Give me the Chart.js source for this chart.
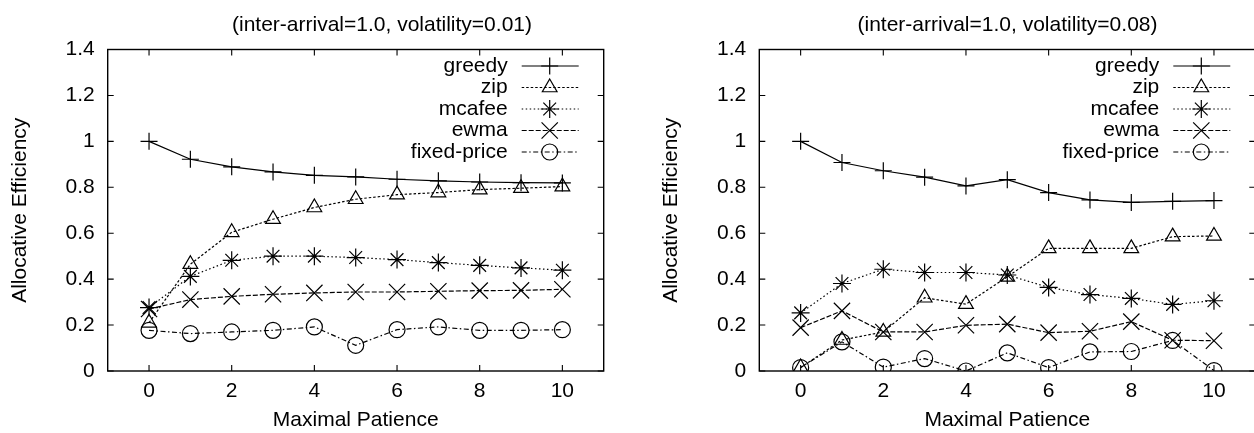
<!DOCTYPE html>
<html><head><meta charset="utf-8">
<script src="https://cdn.jsdelivr.net/npm/chart.js@4/dist/chart.umd.min.js"></script>
<style>
html,body{margin:0;padding:0;background:#fff;overflow:hidden;width:1254px;height:433px;position:relative;}
.panel{position:absolute;top:0;width:640px;height:433px;}
#p1{left:0}
#p2{left:640px}
</style></head><body>
<div class="panel" id="p1"><canvas id="c1"></canvas></div>
<div class="panel" id="p2"><canvas id="c2"></canvas></div>
<script>
// ---- data ----
const patience = [0,1,2,3,4,5,6,7,8,9,10];
const seriesNames = ['greedy','zip','mcafee','ewma','fixed-price'];

const titleLow = '(inter-arrival=1.0, volatility=0.01)';
const greedyLow = [1.0, 0.922, 0.889, 0.867, 0.852, 0.845, 0.835, 0.828, 0.823, 0.820, 0.819];
const zipLow    = [0.21, 0.465, 0.604, 0.661, 0.712, 0.748, 0.768, 0.777, 0.790, 0.796, 0.803];
const mcafeeLow = [0.276, 0.412, 0.482, 0.500, 0.500, 0.494, 0.485, 0.472, 0.460, 0.449, 0.439];
const ewmaLow   = [0.270, 0.311, 0.325, 0.334, 0.340, 0.344, 0.344, 0.347, 0.350, 0.351, 0.356];
const fixedLow  = [0.177, 0.163, 0.170, 0.177, 0.192, 0.112, 0.180, 0.192, 0.177, 0.177, 0.180];

const titleHigh = '(inter-arrival=1.0, volatility=0.08)';
const greedyHigh = [1.0, 0.908, 0.872, 0.844, 0.806, 0.833, 0.777, 0.745, 0.734, 0.739, 0.742];
const zipHigh    = [0.015, 0.135, 0.170, 0.319, 0.291, 0.410, 0.534, 0.534, 0.534, 0.585, 0.588];
const mcafeeHigh = [0.253, 0.381, 0.443, 0.429, 0.429, 0.418, 0.364, 0.333, 0.316, 0.290, 0.306];
const ewmaHigh   = [0.189, 0.262, 0.170, 0.170, 0.199, 0.204, 0.167, 0.173, 0.215, 0.134, 0.132];
const fixedHigh  = [0.015, 0.127, 0.017, 0.054, 0.000, 0.079, 0.015, 0.083, 0.085, 0.133, 0.002];

const xTickValues = [0,2,4,6,8,10];
const xTickLabels = ['0','2','4','6','8','10'];
const yTickValues = [0,0.2,0.4,0.6,0.8,1.0,1.2,1.4];
const yTickLabels = ['0','0.2','0.4','0.6','0.8','1','1.2','1.4'];
const xAxisTitle = 'Maximal Patience';
const yAxisTitle = 'Allocative Efficiency';

// ---- styles ----
const FONT = '"Liberation Sans", Arial, Helvetica, sans-serif';
const FSIZE = 21;
const LW = 1.2;
const styles = [
  {pointStyle:'cross',    radius:8.5,  dash:[]},
  {pointStyle:'triangle', radius:8.5,  dash:[2.5,2]},
  {pointStyle:'star',     radius:9,    dash:[1.5,2.5]},
  {pointStyle:'crossRot', radius:11.5, dash:[5,2]},
  {pointStyle:'circle',   radius:8,    dash:[5,2.5,1.5,2.5]}
];

const framePlugin = {
  id:'gpFrame',
  beforeDatasetsDraw(chart){
    const {ctx, chartArea:a, scales} = chart;
    ctx.save();
    ctx.strokeStyle='#000'; ctx.lineWidth=1.4; ctx.setLineDash([]);
    ctx.strokeRect(a.left, a.top, a.right-a.left, a.bottom-a.top);
    ctx.lineWidth=1.1;
    ctx.beginPath();
    xTickValues.forEach(v=>{
      const px = scales.x.getPixelForValue(v);
      ctx.moveTo(px, a.bottom); ctx.lineTo(px, a.bottom-6);
      ctx.moveTo(px, a.top); ctx.lineTo(px, a.top+6);
    });
    yTickValues.forEach(v=>{
      const py = scales.y.getPixelForValue(v);
      ctx.moveTo(a.left, py); ctx.lineTo(a.left+6, py);
      ctx.moveTo(a.right, py); ctx.lineTo(a.right-6, py);
    });
    ctx.stroke();
    ctx.restore();
  }
};

const legendTitlePlugin = {
  id:'gpLegend',
  afterDraw(chart, args, opts){
    const {ctx, chartArea:a} = chart;
    ctx.save();
    ctx.font = FSIZE+'px '+FONT;
    ctx.fillStyle='#000';
    ctx.textBaseline='middle';
    ctx.textAlign='center';
    ctx.fillText(opts.title, opts.titleX, 25);
    ctx.textAlign='right';
    chart.data.datasets.forEach((ds,i)=>{
      const y = a.top + 16.5 + i*21.5;
      ctx.fillStyle='#000';
      ctx.fillText(ds.label, a.left+400, y);
      ctx.beginPath();
      ctx.setLineDash(ds.borderDash||[]);
      ctx.lineWidth = LW; ctx.strokeStyle='#000';
      ctx.moveTo(a.left+414, y); ctx.lineTo(a.left+471, y);
      ctx.stroke();
      ctx.setLineDash([]);
      ctx.fillStyle='rgba(0,0,0,0)';
      ctx.strokeStyle='#000'; ctx.lineWidth=LW;
      Chart.helpers.drawPoint(ctx, {pointStyle: ds.pointStyle, radius: ds.pointRadius, borderWidth: LW, rotation: 0}, a.left+442, y);
    });
    ctx.restore();
  }
};

function makeChart(id, title, values, geo){
  const datasets = seriesNames.map((name,i)=>({
    label: name,
    data: patience.map((p,j)=>({x:p, y:values[i][j]})),
    borderColor:'#000',
    backgroundColor:'rgba(0,0,0,0)',
    borderWidth:LW,
    borderDash: styles[i].dash,
    pointStyle: styles[i].pointStyle,
    pointRadius: styles[i].radius,
    pointHoverRadius: styles[i].radius,
    pointBorderWidth:LW,
    pointBorderColor:'#000',
    pointBackgroundColor:'rgba(0,0,0,0)',
    tension:0,
    fill:false
  }));
  return new Chart(document.getElementById(id), {
    type:'line',
    data:{datasets},
    options:{
      responsive:true, maintainAspectRatio:false, animation:false,
      devicePixelRatio: 1,
      layout:{padding:{left:0, right:geo.padRight, top:49.5, bottom:0}},
      plugins:{legend:{display:false}, tooltip:{enabled:false}, title:{display:false},
        gpLegend:{title:title, titleX:geo.titleX}},
      scales:{
        x:{type:'linear', min:-1, max:11,
          grid:{display:false, drawTicks:false}, border:{display:false},
          afterBuildTicks:(s)=>{ s.ticks = xTickValues.map(v=>({value:v})); },
          afterFit:(s)=>{ s.height = 62; },
          ticks:{autoSkip:false, maxRotation:0, padding:8, color:'#000',
            font:{family:FONT, size:FSIZE}, callback:(v,i)=>xTickLabels[i]},
          title:{display:true, text:xAxisTitle, color:'#000', padding:{top:0,bottom:0},
            font:{family:FONT, size:FSIZE}}
        },
        y:{type:'linear', min:0, max:1.4,
          grid:{display:false, drawTicks:false}, border:{display:false},
          afterBuildTicks:(s)=>{ s.ticks = yTickValues.map(v=>({value:v})); },
          afterFit:(s)=>{ s.width = geo.yWidth; },
          ticks:{autoSkip:false, padding:13, color:'#000',
            font:{family:FONT, size:FSIZE}, callback:(v,i)=>yTickLabels[i]},
          title:{display:true, text:yAxisTitle, color:'#000', padding:{top:geo.yTitlePad,bottom:0},
            font:{family:FONT, size:FSIZE}}
        }
      }
    },
    plugins:[framePlugin, legendTitlePlugin]
  });
}

makeChart('c1', titleLow, [greedyLow, zipLow, mcafeeLow, ewmaLow, fixedLow],
  {yWidth:107.7, padRight:36.3, yTitlePad:7.4, titleX:382});
makeChart('c2', titleHigh, [greedyHigh, zipHigh, mcafeeHigh, ewmaHigh, fixedHigh],
  {yWidth:119.3, padRight:24.7, yTitlePad:19, titleX:367.5});
</script>
</body></html>
